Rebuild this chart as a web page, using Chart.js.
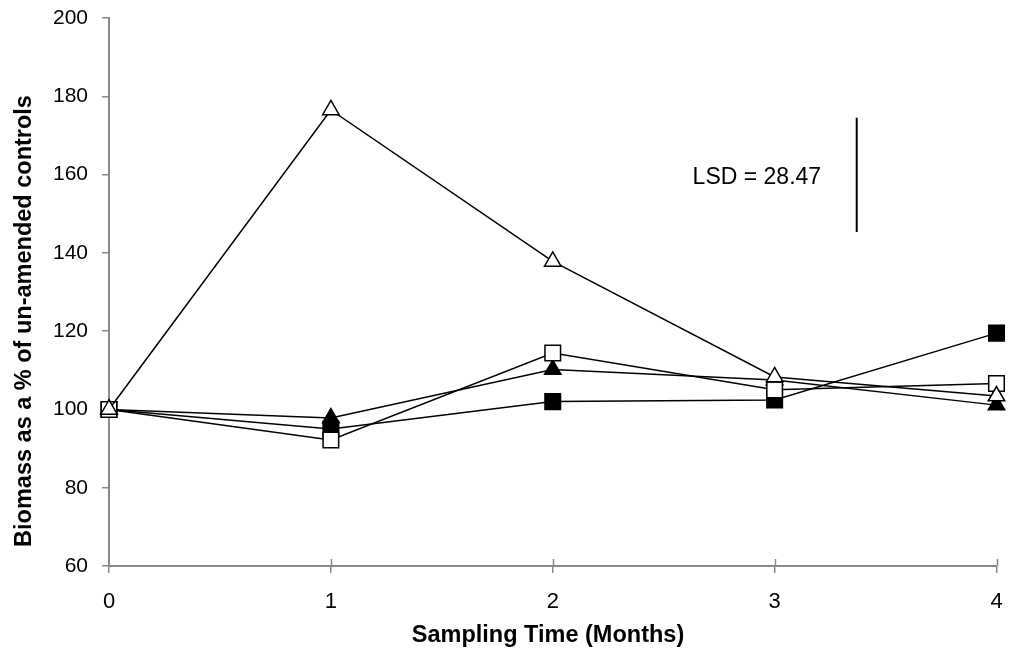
<!DOCTYPE html>
<html>
<head>
<meta charset="utf-8">
<script src="https://cdn.jsdelivr.net/npm/chart.js@4.4.1/dist/chart.umd.min.js"></script>
<style>
  html, body { margin: 0; padding: 0; background: #ffffff; }
  #wrap { width: 1009px; height: 648px; position: relative; }
</style>
</head>
<body>
<div id="wrap"><canvas id="c" width="1009" height="648"></canvas></div>
<script>
// ---- data ----
const months = [0, 1, 2, 3, 4];
const openTriangle = [100, 176.5, 137.8, 108.3, 103.4];
const openSquare = [100, 92.2, 114.4, 105.0, 106.6];
const filledTriangle = [100, 97.8, 110.2, 107.5, 101.1];
const filledSquare = [100, 95.0, 102.0, 102.4, 119.5];
const lsdX = [3.37, 3.37];
const lsdY = [174.5, 145.3];
const lsdText = 'LSD = 28.47';
const lsdLabelX = 2.92;
const lsdLabelY = 157.5;
const yTicks = [60, 80, 100, 120, 140, 160, 180, 200];
const xTicks = [0, 1, 2, 3, 4];
const xTitle = 'Sampling Time (Months)';
const yTitle = 'Biomass as a % of un-amended controls';

const FONT = '"Liberation Sans", Arial, sans-serif';
const AXIS = '#898989';

function pts(xs, ys) { return xs.map((x, i) => ({ x: x, y: ys[i] })); }

function series(label, vals, style, radius, fill) {
  return {
    label: label,
    data: pts(months, vals),
    borderColor: '#000',
    borderWidth: 1.5,
    pointStyle: style,
    pointRadius: radius,
    pointHoverRadius: radius,
    pointBorderColor: '#000',
    pointBorderWidth: 1.5,
    pointBackgroundColor: fill,
    fill: false,
    tension: 0,
    clip: false
  };
}

function zeroPad(scale) {
  scale.paddingTop = 0;
  scale.paddingBottom = 0;
  scale.paddingLeft = 0;
  scale.paddingRight = 0;
}

const overlay = {
  id: 'overlay',
  afterDraw(chart) {
    const ctx = chart.ctx;
    const xs = chart.scales.x, ys = chart.scales.y;
    ctx.save();
    // inner part of x tick marks (cross the axis)
    ctx.strokeStyle = AXIS;
    ctx.lineWidth = 1.5;
    const b = chart.chartArea.bottom;
    xTicks.forEach(v => {
      if (v === 0) return;
      const px = Math.round(xs.getPixelForValue(v)) + 0.5;
      ctx.beginPath();
      ctx.moveTo(px, b - 7);
      ctx.lineTo(px, b);
      ctx.stroke();
    });
    // LSD label
    ctx.fillStyle = '#000';
    ctx.font = '23px ' + FONT;
    ctx.textAlign = 'center';
    ctx.textBaseline = 'alphabetic';
    ctx.fillText(lsdText, xs.getPixelForValue(lsdLabelX), ys.getPixelForValue(lsdLabelY));
    // axis titles
    ctx.font = 'bold 23.5px ' + FONT;
    ctx.fillText(xTitle, 548, 642);
    ctx.translate(31, 321);
    ctx.rotate(-Math.PI / 2);
    ctx.fillText(yTitle, 0, 0);
    ctx.restore();
  }
};

new Chart(document.getElementById('c'), {
  type: 'line',
  data: {
    datasets: [
      series('Open triangle', openTriangle, 'triangle', 9.5, '#fff'),
      series('Open square', openSquare, 'rect', 11, '#fff'),
      series('Filled triangle', filledTriangle, 'triangle', 9.5, '#000'),
      series('Filled square', filledSquare, 'rect', 11, '#000'),
      {
        label: 'LSD',
        data: pts(lsdX, lsdY),
        borderColor: '#000',
        borderWidth: 2,
        pointRadius: 0,
        pointHoverRadius: 0,
        fill: false,
        clip: false
      }
    ]
  },
  options: {
    responsive: false,
    animation: false,
    events: [],
    layout: { padding: { top: 18, right: 10, bottom: 0, left: 0 } },
    plugins: { legend: { display: false }, tooltip: { enabled: false } },
    scales: {
      x: {
        type: 'linear',
        min: 0, max: 4,
        afterFit(scale) { scale.height = 82; zeroPad(scale); },
        afterBuildTicks(scale) { scale.ticks = xTicks.map(v => ({ value: v })); },
        ticks: { color: '#000', font: { family: FONT, size: 22 }, padding: 16, maxRotation: 0 },
        grid: { drawOnChartArea: false, drawTicks: true, tickLength: 7, color: AXIS, lineWidth: 1.5 },
        border: { display: true, color: AXIS, width: 2 }
      },
      y: {
        type: 'linear',
        min: 60, max: 200,
        afterFit(scale) { scale.width = 109; zeroPad(scale); },
        afterBuildTicks(scale) { scale.ticks = yTicks.map(v => ({ value: v })); },
        ticks: { color: '#000', font: { family: FONT, size: 21 }, padding: 14 },
        grid: { drawOnChartArea: false, drawTicks: true, tickLength: 7, color: AXIS, lineWidth: 1.5 },
        border: { display: true, color: AXIS, width: 2 }
      }
    }
  },
  plugins: [overlay]
});
</script>
</body>
</html>
